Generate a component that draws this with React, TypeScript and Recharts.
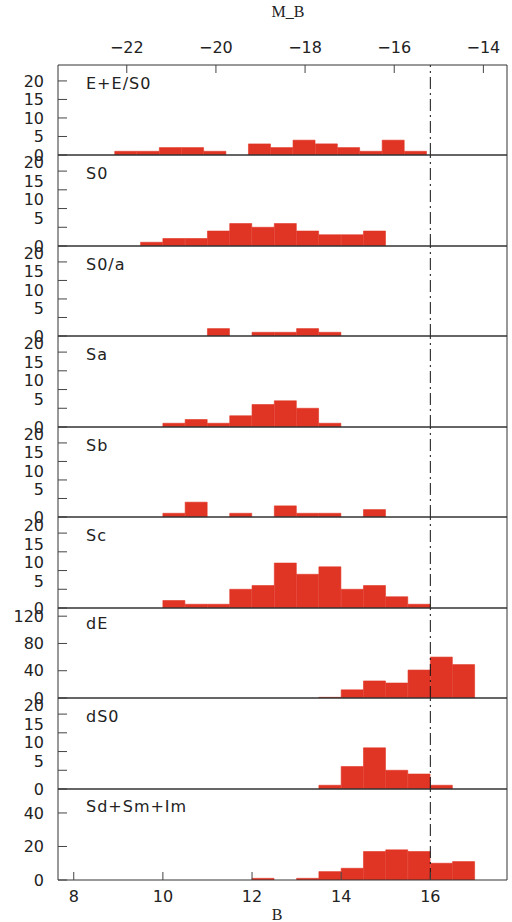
import React from 'react';
import { ComposedChart, Bar, Line, XAxis, YAxis, ReferenceLine } from 'recharts';

// ---------- data ----------
const B_TICKS = [8, 10, 12, 14, 16];
const MB_TICKS = [-22, -20, -18, -16, -14];
const DIST_MOD = 31.19;
const B_LIMIT = 16;

const PANEL_NAMES = ['E+E/S0', 'S0', 'S0/a', 'Sa', 'Sb', 'Sc', 'dE', 'dS0', 'Sd+Sm+Im'];

// bin centres (B magnitude)
const E_BINS = [9.17, 9.67, 10.17, 10.67, 11.17, 11.67, 12.17, 12.67, 13.17, 13.67, 14.17, 14.67, 15.17, 15.67];
const BINS = [9.25, 9.75, 10.25, 10.75, 11.25, 11.75, 12.25, 12.75, 13.25, 13.75, 14.25, 14.75, 15.25, 15.75, 16.25, 16.75];

const E_COUNTS = [1, 1, 2, 2, 1, 0, 3, 2, 4, 3, 2, 1, 4, 1];
const S0_COUNTS = [0, 1, 2, 2, 4, 6, 5, 6, 4, 3, 3, 4, 0, 0, 0, 0];
const S0A_COUNTS = [0, 0, 0, 0, 2, 0, 1, 1, 2, 1, 0, 0, 0, 0, 0, 0];
const SA_COUNTS = [0, 0, 1, 2, 1, 3, 6, 7, 5, 1, 0, 0, 0, 0, 0, 0];
const SB_COUNTS = [0, 0, 1, 4, 0, 1, 0, 3, 1, 1, 0, 2, 0, 0, 0, 0];
const SC_COUNTS = [0, 0, 2, 1, 1, 5, 6, 12, 9, 11, 5, 6, 3, 1, 0, 0];
const DE_COUNTS = [0, 0, 0, 0, 0, 0, 0, 0, 0, 1, 12, 25, 22, 41, 60, 49];
const DS0_COUNTS = [0, 0, 0, 0, 0, 0, 0, 0, 0, 1, 6, 11, 5, 4, 1, 0];
const SD_COUNTS = [0, 0, 0, 0, 0, 0, 1, 0, 1, 5, 7, 17, 18, 17, 10, 11];

const Y_TICKS_SMALL = [0, 5, 10, 15, 20];
const Y_TICKS_DE = [0, 40, 80, 120];
const Y_TICKS_SD = [0, 20, 40];
const Y_MAX_SMALL = 24.3;
const Y_MAX_DE = 132;
const Y_MAX_SD = 54.3;

// ---------- layout / style ----------
const W = 512;
const H = 922;
const X_MIN = 7.647;
const X_MAX = 17.72;
const PANEL_TOPS = [65, 155, 246, 336, 427, 517, 608, 698, 789, 880];
const AXH = 20;
const RED = '#e03424';
const FONT = 'DejaVu Sans';
const INK = '#222';
const LABEL_SHIFT = [0, -9, -9, -9, -9, -8, 0, -9, 0];
const LABEL_DY = [24, 24, 24, 24, 24, 24, 20.5, 24, 23];

const PANELS = [
  { bins: E_BINS, counts: E_COUNTS, yTicks: Y_TICKS_SMALL, yMax: Y_MAX_SMALL },
  { bins: BINS, counts: S0_COUNTS, yTicks: Y_TICKS_SMALL, yMax: Y_MAX_SMALL },
  { bins: BINS, counts: S0A_COUNTS, yTicks: Y_TICKS_SMALL, yMax: Y_MAX_SMALL },
  { bins: BINS, counts: SA_COUNTS, yTicks: Y_TICKS_SMALL, yMax: Y_MAX_SMALL },
  { bins: BINS, counts: SB_COUNTS, yTicks: Y_TICKS_SMALL, yMax: Y_MAX_SMALL },
  { bins: BINS, counts: SC_COUNTS, yTicks: Y_TICKS_SMALL, yMax: Y_MAX_SMALL },
  { bins: BINS, counts: DE_COUNTS, yTicks: Y_TICKS_DE, yMax: Y_MAX_DE },
  { bins: BINS, counts: DS0_COUNTS, yTicks: Y_TICKS_SMALL, yMax: Y_MAX_SMALL },
  { bins: BINS, counts: SD_COUNTS, yTicks: Y_TICKS_SD, yMax: Y_MAX_SD },
];

const fmtMinus = (v: number) => (v < 0 ? '\u2212' + Math.abs(v) : String(v));

const LeftLabel = (props: any) => {
  const { x, y, payload, shift } = props;
  const dy = payload.value === 0 ? 0 : shift;
  return (
    <text x={x} y={y + dy} dy="0.36em" textAnchor="end" fontFamily={FONT} fontSize={16} fill={INK}>
      {payload.value}
    </text>
  );
};

const tickStyle = { fontSize: 16, fontFamily: FONT, fill: INK };

const Panel = ({ index }: { index: number }) => {
  const cfg = PANELS[index];
  const top = PANEL_TOPS[index];
  const bottom = PANEL_TOPS[index + 1];
  const data = cfg.bins.map((x, i) => ({ x, n: cfg.counts[i] }));
  const isFirst = index === 0;
  const isLast = index === PANELS.length - 1;
  const shift = LABEL_SHIFT[index];
  return (
    <div style={{ position: 'absolute', left: 0, top: 0 }}>
      <ComposedChart
        width={W}
        height={H}
        data={data}
        margin={{ top: top - AXH, bottom: H - bottom - AXH, left: 18, right: 0 }}
        barCategoryGap={0}
        barGap={0}
      >
        <XAxis
          xAxisId="b"
          dataKey="x"
          type="number"
          scale="linear"
          domain={[X_MIN, X_MAX]}
          allowDataOverflow
          ticks={B_TICKS}
          interval={0}
          orientation="bottom"
          height={AXH}
          tickSize={-8}
          tickMargin={19}
          tick={isLast ? tickStyle : false}
          stroke="#333"
          tickLine={{ stroke: '#444' }}
        />
        <XAxis
          xAxisId="t"
          dataKey="x"
          type="number"
          scale="linear"
          domain={[X_MIN, X_MAX]}
          allowDataOverflow
          ticks={isFirst ? MB_TICKS.map((m) => m + DIST_MOD) : B_TICKS}
          tickFormatter={(v: number) => (isFirst ? fmtMinus(Math.round(v - DIST_MOD)) : String(v))}
          interval={0}
          orientation="top"
          height={AXH}
          tickSize={-8}
          tickMargin={20}
          tick={isFirst ? tickStyle : false}
          stroke="#333"
          tickLine={{ stroke: '#444' }}
        />
        <YAxis
          yAxisId="l"
          orientation="left"
          type="number"
          width={40}
          domain={[0, cfg.yMax]}
          allowDataOverflow
          ticks={cfg.yTicks}
          interval={0}
          tickSize={-9}
          tickMargin={23}
          tick={(p: any) => <LeftLabel {...p} shift={shift} />}
          stroke="#333"
          tickLine={{ stroke: '#444' }}
        />
        <YAxis
          yAxisId="r"
          orientation="right"
          type="number"
          width={5}
          domain={[0, cfg.yMax]}
          allowDataOverflow
          ticks={cfg.yTicks}
          interval={0}
          tickSize={-9}
          tick={false}
          stroke="#333"
          tickLine={{ stroke: '#444' }}
        />
        <Bar
          xAxisId="b"
          yAxisId="l"
          dataKey="n"
          fill={RED}
          stroke={RED}
          strokeWidth={0.6}
          isAnimationActive={false}
        />
        <Line
          xAxisId="t"
          yAxisId="r"
          dataKey="n"
          stroke="none"
          strokeWidth={0}
          dot={false}
          activeDot={false}
          legendType="none"
          isAnimationActive={false}
        />
        <ReferenceLine
          xAxisId="b"
          yAxisId="l"
          x={B_LIMIT}
          stroke="#111"
          strokeWidth={1}
          strokeDasharray="12 4 2 4"
        />
      </ComposedChart>
    </div>
  );
};

export default function App() {
  return (
    <div style={{ position: 'absolute', left: 0, top: 0, width: W, height: H, background: '#fff', overflow: 'hidden' }}>
      {PANELS.map((_, i) => (
        <Panel key={i} index={i} />
      ))}
      <svg width={W} height={H} style={{ position: 'absolute', left: 0, top: 0, pointerEvents: 'none' }}>
        <text x={288} y={17} textAnchor="middle" fontFamily="Liberation Serif" fontSize={16} fill={INK}>
          M_B
        </text>
        <text x={277} y={920} textAnchor="middle" fontFamily="Liberation Serif" fontSize={16} fill={INK}>
          B
        </text>
        {PANEL_NAMES.map((name, i) => (
          <text
            key={name}
            x={86}
            y={PANEL_TOPS[i] + LABEL_DY[i]}
            fontFamily={FONT}
            fontSize={16}
            letterSpacing={1}
            fill={INK}
          >
            {name}
          </text>
        ))}
      </svg>
    </div>
  );
}
